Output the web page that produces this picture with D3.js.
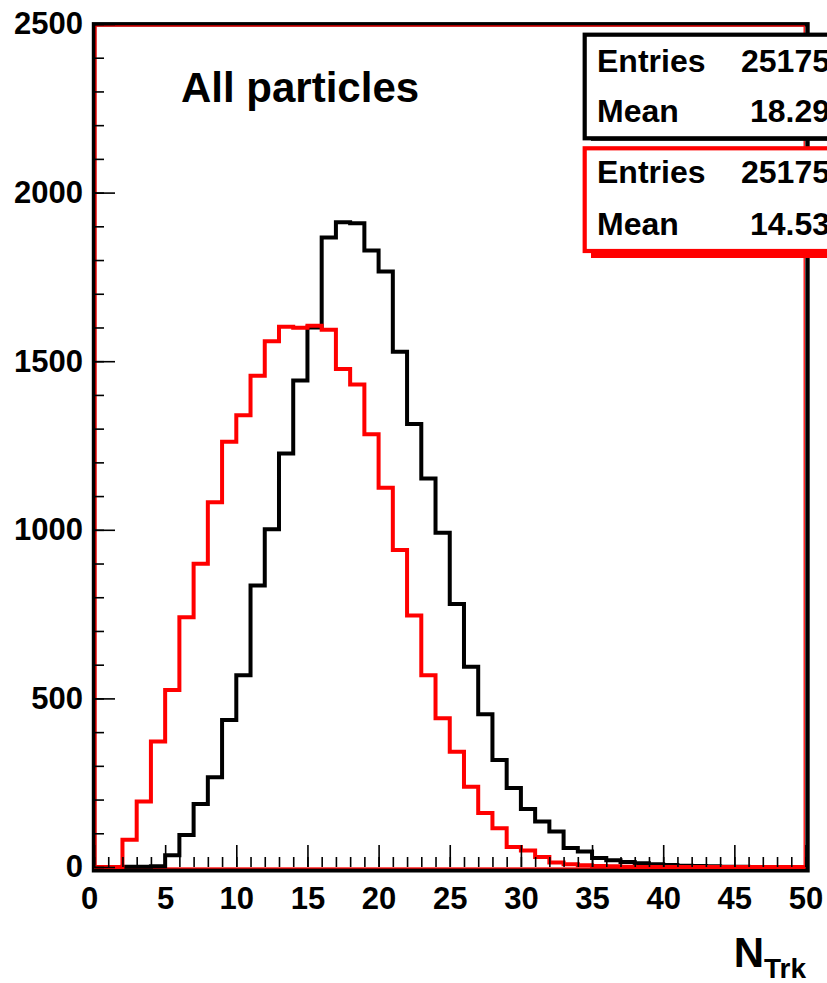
<!DOCTYPE html>
<html>
<head>
<meta charset="utf-8">
<script src="https://cdn.jsdelivr.net/npm/d3@7"></script>
<style>
  html, body { margin: 0; padding: 0; background: #fff; }
  svg { display: block; }
  text { font-family: "Liberation Sans", Arial, Helvetica, sans-serif; font-weight: bold; }
</style>
</head>
<body>
<script>
// ---------------- data ----------------
const binEdgesMin = 0, binEdgesMax = 50;               // N_Trk range, 1 unit per bin
const allTracks = [0, 0, 1, 1, 2, 35, 95, 187, 266, 436,
                   569, 835, 1002, 1226, 1443, 1600, 1867, 1912, 1909, 1828,
                   1766, 1528, 1314, 1152, 991, 780, 594, 453, 317, 234,
                   172, 135, 105, 56, 46, 27, 20, 15, 11, 8,
                   6, 4, 3, 2, 1, 1, 0, 0, 0, 0];
const selTracks = [0, 0, 81, 194, 372, 525, 741, 899, 1082, 1261,
                   1340, 1457, 1559, 1602, 1599, 1605, 1593, 1477, 1431, 1283,
                   1125, 940, 746, 569, 441, 342, 238, 160, 115, 59,
                   49, 30, 13, 8, 5, 3, 2, 1, 0, 0,
                   0, 0, 0, 0, 0, 0, 0, 0, 0, 0];
const xTickLabels = [0, 5, 10, 15, 20, 25, 30, 35, 40, 45, 50];
const xMinorTicks = d3.range(0, 51, 1);
const yTickLabels = [0, 500, 1000, 1500, 2000, 2500];
const yMinorTicks = d3.range(0, 2501, 100);
const titleText = "All particles";
const statsBlack = [["Entries", "25175"], ["Mean", "18.29"]];
const statsRed = [["Entries", "25175"], ["Mean", "14.53"]];

// ---------------- layout ----------------
const W = 827, H = 983;
const svg = d3.select("body").append("svg").attr("width", W).attr("height", H);

const x = d3.scaleLinear().domain([binEdgesMin, binEdgesMax]).range([94, 805.5]);
const y = d3.scaleLinear().domain([0, 2500]).range([867, 24]);

// frame (black, thick)
svg.append("rect")
  .attr("x", 94).attr("y", 24.3).attr("width", 807.5 - 94).attr("height", 870.3 - 24.3)
  .attr("fill", "none").attr("stroke", "#000").attr("stroke-width", 4.4);
// thin red inner frame (second histogram's frame)
svg.append("rect")
  .attr("x", 96).attr("y", 26).attr("width", 804.2 - 96).attr("height", 868 - 26)
  .attr("fill", "none").attr("stroke", "#ff0000").attr("stroke-width", 1.3);

// histogram outlines
function stepPoints(vals) {
  const pts = [];
  vals.forEach((v, i) => { pts.push([i, v]); pts.push([i + 1, v]); });
  return pts;
}
const line = d3.line().x(d => x(d[0])).y(d => y(d[1]));
svg.append("path").datum(stepPoints(allTracks))
  .attr("d", line).attr("fill", "none").attr("stroke", "#000").attr("stroke-width", 4)
  .attr("stroke-linejoin", "miter");
svg.append("path").datum(stepPoints(selTracks))
  .attr("d", line).attr("fill", "none").attr("stroke", "#ff0000").attr("stroke-width", 4)
  .attr("stroke-linejoin", "miter");

// axes
function styleAxis(g) {
  g.select(".domain").remove();
  g.selectAll(".tick line").attr("stroke", "#000").attr("stroke-width", 1.6);
  g.selectAll(".tick text").attr("fill", "#000").attr("font-size", 31)
    .attr("font-family", "'Liberation Sans', Arial, sans-serif").attr("font-weight", "bold");
}
// y minor
svg.append("g").attr("transform", "translate(94,0)")
  .call(d3.axisLeft(y).tickValues(yMinorTicks).tickSize(-10).tickFormat(""))
  .call(styleAxis);
// y major
svg.append("g").attr("transform", "translate(94,0)")
  .call(d3.axisLeft(y).tickValues(yTickLabels).tickSize(-21).tickPadding(11).tickFormat(d3.format("d")))
  .call(styleAxis);
// x minor
svg.append("g").attr("transform", "translate(0,867)")
  .call(d3.axisBottom(x).tickValues(xMinorTicks).tickSize(-10).tickFormat(""))
  .call(styleAxis);
// x major
const gx = svg.append("g").attr("transform", "translate(0,867)")
  .call(d3.axisBottom(x).tickValues(xTickLabels).tickSize(-22).tickPadding(20).tickFormat(d3.format("d")))
  .call(styleAxis);
gx.selectAll(".tick text").filter(d => d === 0).attr("dx", -5);

// title
svg.append("text").attr("x", 181).attr("y", 102).attr("font-size", 42).attr("fill", "#000").text(titleText);

// axis title N_Trk
const xt = svg.append("text").attr("x", 806).attr("y", 967).attr("text-anchor", "end").attr("fill", "#000");
xt.append("tspan").attr("font-size", 42).text("N");
xt.append("tspan").attr("font-size", 28).attr("dy", 11).text("Trk");

// stat boxes
function statBox(top, bottom, color, stats, baselines, shadowH) {
  svg.append("rect").attr("x", 591).attr("y", bottom).attr("width", 260).attr("height", shadowH)
    .attr("fill", color);
  svg.append("rect").attr("x", 584.7).attr("y", top).attr("width", 260).attr("height", bottom - top)
    .attr("fill", "#fff").attr("stroke", color).attr("stroke-width", 4.2);
  stats.forEach((s, i) => {
    svg.append("text").attr("x", 597).attr("y", baselines[i]).attr("font-size", 32).attr("fill", "#000").text(s[0]);
    svg.append("text").attr("x", 830).attr("y", baselines[i]).attr("font-size", 32).attr("fill", "#000")
      .attr("text-anchor", "end").text(s[1]);
  });
}
statBox(34.7, 138.3, "#000", statsBlack, [71.7, 121.7], 2.5);
statBox(148.3, 251, "#ff0000", statsRed, [183.3, 235], 7);
</script>
</body>
</html>
